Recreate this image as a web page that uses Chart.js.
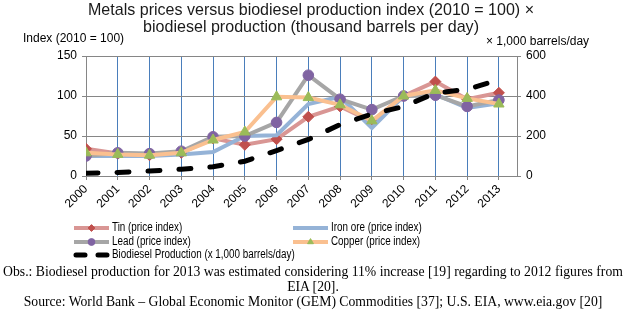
<!DOCTYPE html>
<html>
<head>
<meta charset="utf-8">
<script src="https://cdn.jsdelivr.net/npm/chart.js@4/dist/chart.umd.min.js"></script>
<style>
  html, body { margin: 0; padding: 0; background: #fff; }
  #wrap { position: relative; width: 626px; height: 323px; overflow: hidden; }
  #c { position: absolute; left: 0; top: 0; }
  .note {
    position: absolute; left: 0; width: 626px; text-align: center;
    font-family: "Liberation Serif", "Times New Roman", serif;
    font-size: 13.7px; line-height: 15px; color: #000; white-space: nowrap;
  }
</style>
</head>
<body>
<div id="wrap">
  <canvas id="c" width="626" height="323"></canvas>
  <div class="note" style="top:264px">Obs.: Biodiesel production for 2013 was estimated considering 11% increase [19] regarding to 2012 figures from</div>
  <div class="note" style="top:279px">EIA [20].</div>
  <div class="note" style="top:294px">Source: World Bank – Global Economic Monitor (GEM) Commodities [37]; U.S. EIA, www.eia.gov [20]</div>
</div>
<script>
// Years on the category axis
const years = ['2000','2001','2002','2003','2004','2005','2006','2007','2008','2009','2010','2011','2012','2013'];

// Price indices, 2010 = 100
const tin     = [34, 28, 26, 29, 47, 39, 46, 74, 87, 68, 100, 118, 96, 104];
const ironOre = [25, 25, 25, 27, 30, 50, 51, 90, 99, 60, 100, 102, 85, 91];
const lead    = [25, 29, 28, 31, 49, 50, 67, 126, 96, 83, 100, 101, 87, 95];
const copper  = [29, 27, 26, 29, 45, 55, 99, 98, 89, 69, 100, 107, 97, 90];

// Biodiesel production, thousand barrels per day
const biodiesel = [14, 18, 25, 34, 46, 74, 127, 183, 257, 310, 347, 415, 433, 481];

// Axis ticks
const indexTicks = [0, 50, 100, 150];
const barrelTicks = [0, 200, 400, 600];

const FONT = '"Liberation Sans", Arial, sans-serif';

function pts(values) {
  return values.map((v, i) => ({ x: Number(years[i]), y: v }));
}

const datasets = [
  { label: 'Tin (price index)', data: pts(tin), borderColor: '#d99694', borderWidth: 4,
    pointStyle: 'rectRot', pointRadius: 5.5, pointBackgroundColor: '#c0504d', pointBorderColor: '#c0504d',
    pointBorderWidth: 1, yAxisID: 'y', order: 4 },
  { label: 'Iron ore (price index)', data: pts(ironOre), borderColor: '#95b3d7', borderWidth: 4,
    pointRadius: 0, yAxisID: 'y', order: 3 },
  { label: 'Lead (price index)', data: pts(lead), borderColor: '#a6a6a6', borderWidth: 4,
    pointStyle: 'circle', pointRadius: 5.3, pointBackgroundColor: '#8064a2', pointBorderColor: '#8064a2',
    pointBorderWidth: 1, yAxisID: 'y', order: 2 },
  { label: 'Copper (price index)', data: pts(copper), borderColor: '#fac090', borderWidth: 4,
    pointStyle: 'triangle', pointRadius: 6, pointBackgroundColor: '#9bbb59', pointBorderColor: '#9bbb59',
    pointBorderWidth: 1, yAxisID: 'y', order: 1 },
  { label: 'Biodiesel Production (x 1,000 barrels/day)', data: pts(biodiesel), borderColor: '#000',
    borderWidth: 5, borderDash: [12, 19], borderCapStyle: 'round', pointRadius: 0, yAxisID: 'y1', order: 0 }
];

// Draws a text line with a horizontal squeeze factor
function squeezedText(ctx, text, x, y, sx, align) {
  ctx.save();
  ctx.translate(x, y);
  ctx.scale(sx, 1);
  ctx.textAlign = align || 'left';
  ctx.textBaseline = 'middle';
  ctx.fillText(text, 0, 0);
  ctx.restore();
}

// Draws a text line squeezed to a given width
function fitText(ctx, text, cx, cy, width) {
  const w = ctx.measureText(text).width;
  squeezedText(ctx, text, cx, cy, width / w, 'center');
}

const decorations = {
  id: 'decorations',
  afterDraw(chart) {
    const ctx = chart.ctx;
    ctx.save();
    ctx.fillStyle = '#1a1a1a';
    ctx.font = '17px ' + FONT;
    fitText(ctx, 'Metals prices versus biodiesel production index (2010 = 100) ×', 311, 10, 446);
    fitText(ctx, 'biodiesel production (thousand barrels per day)', 311, 27, 336);

    ctx.fillStyle = '#000';
    ctx.font = '12px ' + FONT;
    ctx.textBaseline = 'middle';
    ctx.textAlign = 'left';
    ctx.fillText('Index (2010 = 100)', 23, 39);
    ctx.fillText('× 1,000 barrels/day', 486, 42);

    // Legend
    const slots = [
      { ds: 0, x: 74, y: 228 }, { ds: 1, x: 293, y: 228 },
      { ds: 2, x: 74, y: 242 }, { ds: 3, x: 293, y: 242 },
      { ds: 4, x: 74, y: 255 }
    ];
    slots.forEach(s => {
      const d = chart.data.datasets[s.ds];
      ctx.save();
      ctx.strokeStyle = d.borderColor;
      ctx.lineWidth = d.borderWidth;
      ctx.lineCap = d.borderCapStyle === 'round' ? 'round' : 'butt';
      if (d.borderDash) {
        ctx.beginPath();
        ctx.moveTo(s.x + 2, s.y); ctx.lineTo(s.x + 11, s.y);
        ctx.moveTo(s.x + 24, s.y); ctx.lineTo(s.x + 33, s.y);
        ctx.stroke();
      } else {
        ctx.beginPath();
        ctx.moveTo(s.x, s.y); ctx.lineTo(s.x + 35, s.y);
        ctx.stroke();
      }
      if (d.pointRadius > 0) {
        ctx.fillStyle = d.pointBackgroundColor;
        ctx.strokeStyle = d.pointBorderColor;
        ctx.lineWidth = 1;
        Chart.helpers.drawPoint(ctx, { pointStyle: d.pointStyle, radius: 3.4, rotation: 0, borderWidth: 1 }, s.x + 17.5, s.y);
      }
      ctx.restore();
      ctx.fillStyle = '#000';
      ctx.font = '12px ' + FONT;
      squeezedText(ctx, d.label, s.x + 38, s.y, 0.82, 'left');
    });
    ctx.restore();
  }
};

new Chart(document.getElementById('c'), {
  type: 'line',
  data: { datasets },
  options: {
    responsive: false,
    animation: false,
    devicePixelRatio: 1,
    layout: { padding: { top: 56, left: 0, right: 0, bottom: 0 } },
    plugins: { legend: { display: false }, title: { display: false }, tooltip: { enabled: false } },
    elements: { line: { tension: 0 } },
    scales: {
      x: {
        type: 'linear', min: 2000, max: 2013.57,
        afterFit(s) { s.height = 147; },
        ticks: {
          stepSize: 1, includeBounds: false, autoSkip: false, maxRotation: 45, minRotation: 45,
          padding: 2, color: '#000', font: { family: FONT, size: 12 },
          callback: v => years[v - 2000]
        },
        grid: {
          color: c => (c.tick && c.tick.value === 2000) ? 'rgba(0,0,0,0)' : '#4a7ebb',
          lineWidth: 1, tickLength: 4, tickColor: '#868686'
        },
        border: { color: '#868686' }
      },
      y: {
        position: 'left', min: 0, max: 150,
        afterFit(s) { s.width = 86; },
        afterBuildTicks(s) { s.ticks = indexTicks.map(v => ({ value: v })); },
        ticks: { padding: 5, color: '#000', font: { family: FONT, size: 12 } },
        grid: { color: '#868686', tickLength: 4 },
        border: { color: '#868686' }
      },
      y1: {
        position: 'right', min: 0, max: 600,
        afterFit(s) { s.width = 109; },
        afterBuildTicks(s) { s.ticks = barrelTicks.map(v => ({ value: v })); },
        ticks: { padding: 5, color: '#000', font: { family: FONT, size: 12 } },
        grid: { drawOnChartArea: false, color: '#868686', tickLength: 4 },
        border: { color: '#868686' }
      }
    }
  },
  plugins: [decorations]
});
</script>
</body>
</html>
